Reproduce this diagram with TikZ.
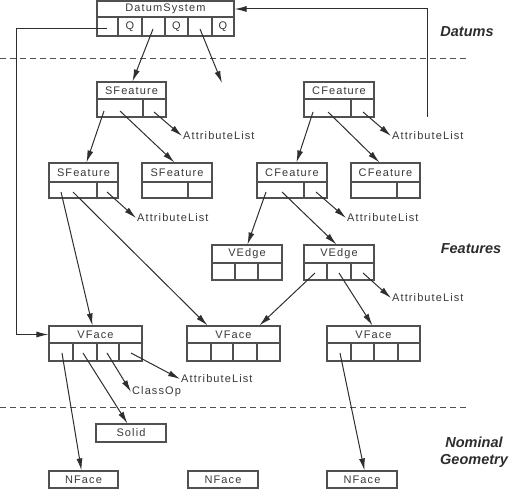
\documentclass[tikz,border=0pt]{standalone}
\usepackage{fontspec}
\setmainfont{Liberation Sans}[LetterSpace=10]
\newfontfamily\lblfont{Liberation Sans}
\usetikzlibrary{arrows.meta,calc}
\definecolor{linec}{HTML}{505050}
\definecolor{txtc}{HTML}{383838}
\definecolor{arrc}{HTML}{2E2E2E}
\newcommand\mkrect[6]{\node[bx, minimum width={#3pt-#2pt}, minimum height={#5pt-#4pt}] (#1) at ({(#2+#3)/2},{(#4+#5)/2}) {#6};}
\tikzset{
  bx/.style={draw=linec, line width=1.1pt, rectangle, inner sep=0pt, text=txtc, font=\fontsize{11}{12}\selectfont},
  lbl/.style={text=txtc, inner sep=1pt, anchor=west, font=\fontsize{11}{12}\selectfont},
  sect/.style={text=txtc!80!black, align=center, inner sep=0pt, font=\lblfont\bfseries\itshape\fontsize{14.5}{17}\selectfont},
  arr/.style={draw=arrc, line width=1pt, -{Latex[length=12pt,width=6pt]}},
  sep/.style={draw=linec, line width=1pt, dash pattern=on 6pt off 4pt}
}
\begin{document}
\begin{tikzpicture}[x=1pt,y=-1pt]
\useasboundingbox (0,0) rectangle (510,497);
% separators
\coordinate (d1a) at (0,59); \coordinate (d1b) at (467,59);
\coordinate (d2a) at (0,407); \coordinate (d2b) at (467,407);
\draw[sep] (d1a) -- (d1b);
\draw[sep] (d2a) -- (d2b);
% DatumSystem
\mkrect{DS}{97}{234}{1}{17}{DatumSystem}
\mkrect{DSc1}{97}{118}{17}{36}{}
\mkrect{DSc2}{118}{142}{17}{36}{Q}
\mkrect{DSc3}{142}{165}{17}{36}{}
\mkrect{DSc4}{165}{188}{17}{36}{Q}
\mkrect{DSc5}{188}{212}{17}{36}{}
\mkrect{DSc6}{212}{234}{17}{36}{Q}
% SFeature / CFeature top
\mkrect{SF1}{97}{166}{82}{99}{SFeature}
\mkrect{SF1a}{97}{143}{99}{117}{}
\mkrect{SF1b}{143}{166}{99}{117}{}
\mkrect{CF1}{304}{374}{82}{99}{CFeature}
\mkrect{CF1a}{304}{351}{99}{117}{}
\mkrect{CF1b}{351}{374}{99}{117}{}
% second row
\mkrect{SF2}{49}{118}{163}{182}{SFeature}
\mkrect{SF2a}{49}{97}{182}{198}{}
\mkrect{SF2b}{97}{118}{182}{198}{}
\mkrect{SF3}{142}{212}{163}{182}{SFeature}
\mkrect{SF3a}{142}{188}{182}{198}{}
\mkrect{SF3b}{188}{212}{182}{198}{}
\mkrect{CF2}{257}{327}{163}{182}{CFeature}
\mkrect{CF2a}{257}{304}{182}{198}{}
\mkrect{CF2b}{304}{327}{182}{198}{}
\mkrect{CF3}{351}{420}{163}{182}{CFeature}
\mkrect{CF3a}{351}{397}{182}{198}{}
\mkrect{CF3b}{397}{420}{182}{198}{}
% VEdges
\mkrect{VE1}{212}{282}{245}{263}{VEdge}
\mkrect{VE1a}{212}{235}{263}{280}{}
\mkrect{VE1b}{235}{258}{263}{280}{}
\mkrect{VE1c}{258}{282}{263}{280}{}
\mkrect{VE2}{304}{374}{245}{263}{VEdge}
\mkrect{VE2a}{304}{327}{263}{280}{}
\mkrect{VE2b}{327}{351}{263}{280}{}
\mkrect{VE2c}{351}{374}{263}{280}{}
% VFaces
\mkrect{VF1}{49}{142}{326}{343}{VFace}
\mkrect{VF1a}{49}{73}{343}{361}{}
\mkrect{VF1b}{73}{97}{343}{361}{}
\mkrect{VF1c}{97}{119}{343}{361}{}
\mkrect{VF1d}{119}{142}{343}{361}{}
\mkrect{VF2}{187}{280}{326}{343}{VFace}
\mkrect{VF2a}{187}{211}{343}{361}{}
\mkrect{VF2b}{211}{233}{343}{361}{}
\mkrect{VF2c}{233}{257}{343}{361}{}
\mkrect{VF2d}{257}{280}{343}{361}{}
\mkrect{VF3}{327}{420}{326}{343}{VFace}
\mkrect{VF3a}{327}{351}{343}{361}{}
\mkrect{VF3b}{351}{374}{343}{361}{}
\mkrect{VF3c}{374}{398}{343}{361}{}
\mkrect{VF3d}{398}{420}{343}{361}{}
% nominal geometry
\mkrect{SO}{96}{166}{424}{442}{Solid}
\mkrect{NF1}{49}{118}{471}{488}{NFace}
\mkrect{NF2}{188}{258}{471}{488}{NFace}
\mkrect{NF3}{327}{397}{471}{488}{NFace}
% text labels
\node[lbl] (AL1) at (182,136) {AttributeList};
\node[lbl] (AL2) at (391,136) {AttributeList};
\node[lbl] (AL3) at (136,218) {AttributeList};
\node[lbl] (AL4) at (346,218) {AttributeList};
\node[lbl] (AL5) at (391,298) {AttributeList};
\node[lbl] (AL6) at (180,379) {AttributeList};
\node[lbl] (CO) at (131,392) {ClassOp};
\node[sect] (Ld) at (467,32) {Datums};
\node[sect] (Lf) at (471,249) {Features};
\node[sect] (Ln) at (474,452) {Nominal\\Geometry};
% start points
\coordinate (s1) at (153,29);
\coordinate (s2) at (200,29);
\coordinate (s3) at (107,29);
\coordinate (s3b) at (16,29);
\coordinate (rb) at (427,117);
\coordinate (free1) at (222,83);
\coordinate (a1) at (104,111); \coordinate (a2) at (120,111); \coordinate (a3) at (154,112);
\coordinate (b1) at (313,112); \coordinate (b2) at (328,112); \coordinate (b3) at (363,112);
\coordinate (c1) at (61,192); \coordinate (c2) at (73,192); \coordinate (c3) at (107,192);
\coordinate (e1) at (266,192); \coordinate (e2) at (282,192); \coordinate (e3) at (316,192);
\coordinate (g1) at (315,273); \coordinate (g2) at (339,273); \coordinate (g3) at (363,273);
\coordinate (h1) at (62,353); \coordinate (h2) at (83,353); \coordinate (h3) at (107,353); \coordinate (h4) at (131,353);
\coordinate (k1) at (340,353);
% connectors
\draw[arr] (s1) -- ($(SF1.north west)+(36,0)$);
\draw[arr] (s2) -- (free1);
\draw[arr] (s3) -- (s3b) |- (VF1.west);
\draw[arr] (rb) |- (DS.east);
\draw[arr] (a1) -- ($(SF2.north west)+(38,0)$);
\draw[arr] (a2) -- ($(SF3.north west)+(33,0)$);
\draw[arr] (a3) -- (AL1.west);
\draw[arr] (b1) -- ($(CF2.north west)+(40,0)$);
\draw[arr] (b2) -- ($(CF3.north west)+(29,0)$);
\draw[arr] (b3) -- (AL2.west);
\draw[arr] (c1) -- ($(VF1.north west)+(44,0)$);
\draw[arr] (c2) -- ($(VF2.north west)+(21,0)$);
\draw[arr] (c3) -- (AL3.west);
\draw[arr] (e1) -- ($(VE1.north west)+(36,0)$);
\draw[arr] (e2) -- ($(VE2.north west)+(33,0)$);
\draw[arr] (e3) -- (AL4.west);
\draw[arr] (g1) -- ($(VF2.north west)+(73,0)$);
\draw[arr] (g2) -- ($(VF3.north west)+(46,0)$);
\draw[arr] (g3) -- (AL5.west);
\draw[arr] (h1) -- ($(NF1.north west)+(33,0)$);
\draw[arr] (h2) -- ($(SO.north west)+(32,0)$);
\draw[arr] (h3) -- (CO.west);
\draw[arr] (h4) -- (AL6.west);
\draw[arr] (k1) -- ($(NF3.north west)+(38,0)$);
\end{tikzpicture}
\end{document}
